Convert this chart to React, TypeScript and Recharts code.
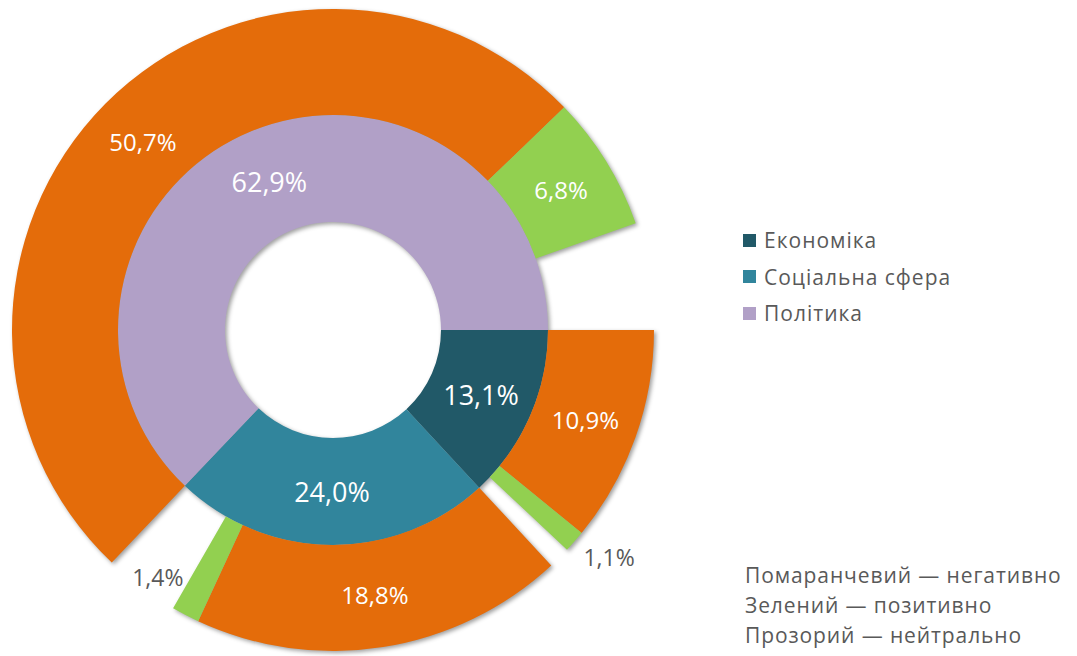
import React from 'react'
import { PieChart, Pie, Cell, Legend } from 'recharts'

// inner ring: topic shares
const categories = ['Економіка', 'Соціальна сфера', 'Політика']
const categoryShares = [13.1, 24.0, 62.9]
const categoryColors = ['#215968', '#31859C', '#B1A0C7']

// outer ring: tone inside each topic
const negativeShares = [10.9, 18.8, 50.7]
const positiveShares = [1.1, 1.4, 6.8]
const neutralShares = [1.1, 3.8, 5.4]
const toneColors = { neg: '#E46C0A', pos: '#92D050', neu: 'transparent' }

const toneNotes = ['Помаранчевий — негативно', 'Зелений — позитивно', 'Прозорий — нейтрально']

const innerData = categories.map((name, i) => ({ name, value: categoryShares[i] }))
const outerData = categories.flatMap((name, i) => [
  { name: name + ' neg', tone: 'neg', value: negativeShares[i] },
  { name: name + ' pos', tone: 'pos', value: positiveShares[i] },
  { name: name + ' neu', tone: 'neu', value: neutralShares[i] }
])

const WIDTH = 1077
const HEIGHT = 656
const CX = 333
const CY = 330
const RAD = Math.PI / 180
const FONT = '"Open Sans", "Noto Sans", sans-serif'

const fmt = (v: number) => v.toFixed(1).replace('.', ',') + '%'

const renderInnerLabel = (props: any) => {
  const { cx, cy, midAngle, innerRadius, outerRadius, index } = props
  const r = (innerRadius + outerRadius) / 2
  const x = cx + r * Math.cos(-midAngle * RAD)
  const y = cy + r * Math.sin(-midAngle * RAD)
  return (
    <text x={x} y={y} fill="#fff" fontSize={27} fontFamily={FONT}
      textAnchor="middle" dominantBaseline="central">
      {fmt(innerData[index].value)}
    </text>
  )
}

const renderOuterLabel = (props: any) => {
  const { cx, cy, midAngle, innerRadius, outerRadius, index } = props
  const d = outerData[index]
  if (d.tone === 'neu') return null
  const cos = Math.cos(-midAngle * RAD)
  const sin = Math.sin(-midAngle * RAD)
  if (d.value >= 2) {
    const r = (innerRadius + outerRadius) / 2
    return (
      <text x={cx + r * cos} y={cy + r * sin} fill="#fff" fontSize={24} fontFamily={FONT}
        textAnchor="middle" dominantBaseline="central">
        {fmt(d.value)}
      </text>
    )
  }
  // thin slices: label sits outside the ring
  const r = outerRadius + 12
  let x = cx + r * cos
  let y = cy + r * sin + 8
  let anchor = 'start'
  if (cos < 0) {
    x = cx + outerRadius * cos - 2
    y = cy + outerRadius * sin - 38
    anchor = 'end'
  }
  return (
    <text x={x} y={y} fill="#595959" fontSize={23} fontFamily={FONT}
      textAnchor={anchor} dominantBaseline="central">
      {fmt(d.value)}
    </text>
  )
}

const renderLegend = () => (
  <div style={{ fontFamily: FONT, fontSize: 21, letterSpacing: 1, color: '#595959' }}>
    {categories.map((c, i) => (
      <div key={c} style={{ display: 'flex', alignItems: 'center', height: 36.5 }}>
        <span style={{ display: 'inline-block', width: 13, height: 13, background: categoryColors[i], marginRight: 8 }} />
        {c}
      </div>
    ))}
  </div>
)

export default function App() {
  const common = { cx: CX, cy: CY, startAngle: 0, endAngle: -360, stroke: 'none', isAnimationActive: false }
  return (
    <div style={{ position: 'absolute', left: 0, top: 0, width: WIDTH, height: HEIGHT, background: '#fff' }}>
      {/* filled rings with the soft shadow */}
      <div style={{ position: 'absolute', left: 0, top: 0, filter: 'drop-shadow(2px 2px 2px rgba(0,0,0,0.38))' }}>
        <PieChart width={WIDTH} height={HEIGHT} margin={{ top: 0, right: 0, bottom: 0, left: 0 }}>
          <Pie data={innerData} dataKey="value" innerRadius={108} outerRadius={215} {...common}>
            {innerData.map((d, i) => <Cell key={d.name} fill={categoryColors[i]} />)}
          </Pie>
          <Pie data={outerData} dataKey="value" innerRadius={215} outerRadius={321} {...common}>
            {outerData.map((d) => <Cell key={d.name} fill={(toneColors as any)[d.tone]} />)}
          </Pie>
        </PieChart>
      </div>
      {/* labels and legend, no shadow */}
      <div style={{ position: 'absolute', left: 0, top: 0 }}>
        <PieChart width={WIDTH} height={HEIGHT} margin={{ top: 0, right: 0, bottom: 0, left: 0 }}>
          <Pie data={innerData} dataKey="value" innerRadius={108} outerRadius={215} {...common}
            label={renderInnerLabel} labelLine={false}>
            {innerData.map((d) => <Cell key={d.name} fill="transparent" />)}
          </Pie>
          <Pie data={outerData} dataKey="value" innerRadius={215} outerRadius={321} {...common}
            label={renderOuterLabel} labelLine={false}>
            {outerData.map((d) => <Cell key={d.name} fill="transparent" />)}
          </Pie>
          <Legend content={renderLegend}
            wrapperStyle={{ position: 'absolute', left: 743, top: 222, width: 'auto', height: 'auto' }} />
        </PieChart>
      </div>
      <div style={{ position: 'absolute', left: 745, top: 560, fontFamily: FONT, fontSize: 21, letterSpacing: 0.9, color: '#595959', lineHeight: '30px', whiteSpace: 'nowrap' }}>
        {toneNotes.map((t) => <div key={t}>{t}</div>)}
      </div>
    </div>
  )
}
